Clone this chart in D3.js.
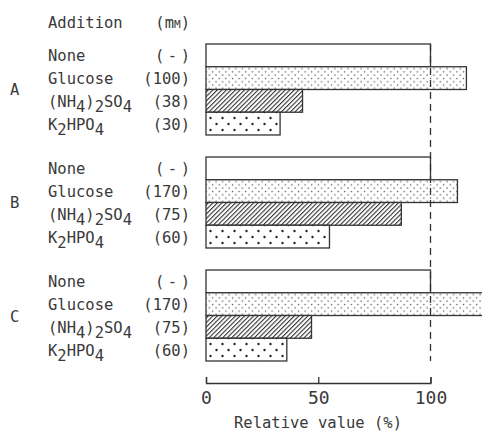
<!DOCTYPE html>
<html>
<head>
<meta charset="utf-8">
<script src="https://cdn.jsdelivr.net/npm/d3@7"></script>
<style>
  body { margin: 0; background: #fff; }
  svg text { font-family: "DejaVu Sans Mono", "Liberation Mono", monospace; fill: #3a3a3a; }
</style>
</head>
<body>
<div id="chart"></div>
<script>
// data
const groups = ['A', 'B', 'C'];
const additions = ['None', 'Glucose', '(NH4)2SO4', 'K2HPO4'];
const concA = ['( - )', '(100)', '(38)', '(30)'];
const concB = ['( - )', '(170)', '(75)', '(60)'];
const concC = ['( - )', '(170)', '(75)', '(60)'];
const valuesA = [100, 116, 43, 33];
const valuesB = [100, 112, 87, 55];
const valuesC = [100, 128, 47, 36];
const xTicks = [0, 50, 100];

const concs = [concA, concB, concC];
const values = [valuesA, valuesB, valuesC];

// label pieces: [text, isSub]
const labelParts = {
    'None': [['None', false]],
    'Glucose': [['Glucose', false]],
    '(NH4)2SO4': [['(NH', false], ['4', true], [')', false], ['2', true], ['SO', false], ['4', true]],
    'K2HPO4': [['K', false], ['2', true], ['HPO', false], ['4', true]]
};
const fills = ['url(#none)', 'url(#fine)', 'url(#hatch)', 'url(#coarse)'];

const W = 482, H = 436;
const ink = '#333';

const svg = d3.select('#chart')
    .append('svg')
    .attr('width', W)
    .attr('height', H);

/** patterns */
const defs = svg.append('defs');

let fine = defs.append('pattern')
    .attr('id', 'fine').attr('patternUnits', 'userSpaceOnUse')
    .attr('width', 6.6).attr('height', 6.6);
fine.append('rect').attr('width', 6.6).attr('height', 6.6).attr('fill', '#fff');
[[1.5, 1.5], [4.8, 4.8]].forEach((p) => {
    fine.append('circle').attr('cx', p[0]).attr('cy', p[1]).attr('r', 0.75).attr('fill', '#555');
});

let hatch = defs.append('pattern')
    .attr('id', 'hatch').attr('patternUnits', 'userSpaceOnUse')
    .attr('width', 3.2).attr('height', 3.2)
    .attr('patternTransform', 'rotate(45)');
hatch.append('rect').attr('width', 3.2).attr('height', 3.2).attr('fill', '#fff');
hatch.append('line').attr('x1', 0).attr('y1', 0).attr('x2', 0).attr('y2', 3.2)
    .attr('stroke', '#333').attr('stroke-width', 2.2);

let coarse = defs.append('pattern')
    .attr('id', 'coarse').attr('patternUnits', 'userSpaceOnUse')
    .attr('width', 12).attr('height', 12)
    .attr('x', 206).attr('y', 0);
coarse.append('rect').attr('width', 12).attr('height', 12).attr('fill', '#fff');
[[4.5, 2], [10.5, 8]].forEach((p) => {
    coarse.append('circle').attr('cx', p[0]).attr('cy', p[1]).attr('r', 1.2).attr('fill', '#222');
});

defs.append('pattern')
    .attr('id', 'none').attr('patternUnits', 'userSpaceOnUse')
    .attr('width', 4).attr('height', 4)
    .append('rect').attr('width', 4).attr('height', 4).attr('fill', '#fff');

/** scales */
const xScale = d3.scaleLinear().domain([0, 100]).range([206, 430.5]);
const groupScale = d3.scaleBand().domain(groups).range([44, 361]).paddingInner(0.195);
const rowScale = d3.scaleBand().domain(d3.range(additions.length)).range([0, groupScale.bandwidth()]);

/** header */
svg.append('text').attr('x', 48).attr('y', 28).style('font-size', '15.5px').text('Addition');
let mm = svg.append('text').attr('x', 190).attr('y', 28).attr('text-anchor', 'end').style('font-size', '15.5px');
mm.append('tspan').text('(m');
mm.append('tspan').style('font-size', '11px').text('M');
mm.append('tspan').text(')');

/** groups */
const g = svg.selectAll('g.group')
    .data(groups)
    .enter()
    .append('g')
    .attr('class', 'group')
    .attr('transform', (d) => `translate(0, ${groupScale(d)})`);

g.append('text')
    .attr('x', 10)
    .attr('y', groupScale.bandwidth() / 2 + 6)
    .style('font-size', '15.5px')
    .text((d) => d);

g.each(function (grp, gi) {
    const sel = d3.select(this);
    const rows = additions.map((a, i) => ({ name: a, conc: concs[gi][i], value: values[gi][i], i: i }));

    // bars
    sel.selectAll('rect.bar')
        .data(rows)
        .enter()
        .append('rect')
        .attr('class', 'bar')
        .attr('x', xScale(0))
        .attr('y', (d) => rowScale(d.i))
        .attr('width', (d) => xScale(d.value) - xScale(0))
        .attr('height', rowScale.bandwidth())
        .attr('fill', (d) => fills[d.i])
        .attr('stroke', ink)
        .attr('stroke-width', 1.3);

    // addition names
    sel.selectAll('text.name')
        .data(rows)
        .enter()
        .append('text')
        .attr('class', 'name')
        .attr('x', 48)
        .attr('y', (d) => rowScale(d.i) + rowScale.bandwidth() / 2 + 6)
        .style('font-size', '15.5px')
        .each(function (d) {
            const t = d3.select(this);
            let shifted = false;
            labelParts[d.name].forEach((p) => {
                const ts = t.append('tspan').text(p[0]);
                if (p[1] && !shifted) { ts.attr('dy', 5); shifted = true; }
                else if (!p[1] && shifted) { ts.attr('dy', -5); shifted = false; }
            });
        });

    // concentrations
    sel.selectAll('text.conc')
        .data(rows)
        .enter()
        .append('text')
        .attr('class', 'conc')
        .attr('x', 190)
        .attr('y', (d) => rowScale(d.i) + rowScale.bandwidth() / 2 + 6)
        .attr('text-anchor', 'end')
        .style('font-size', '15.5px')
        .each(function (d) {
            if (d.conc === '( - )') {
                d3.select(this).attr('textLength', 35).attr('lengthAdjust', 'spacing');
            }
        })
        .text((d) => d.conc);
});

/** dashed 100% line */
svg.append('line')
    .attr('x1', xScale(100)).attr('x2', xScale(100))
    .attr('y1', groupScale('A')).attr('y2', groupScale('C') + groupScale.bandwidth())
    .attr('stroke', ink)
    .attr('stroke-width', 1.3)
    .attr('stroke-dasharray', '7,5');

/** x axis */
const axis = svg.append('g')
    .attr('transform', 'translate(0, 383)')
    .call(d3.axisBottom(xScale).tickValues(xTicks).tickSizeInner(-6).tickSizeOuter(-6).tickPadding(8));
axis.select('.domain').attr('stroke', ink).attr('stroke-width', 1.3);
axis.selectAll('.tick line').attr('stroke', ink).attr('stroke-width', 1.3);
axis.selectAll('.tick text')
    .style('font-family', '"DejaVu Sans Mono", monospace')
    .style('font-size', '18px')
    .attr('fill', '#3a3a3a');

svg.append('text')
    .attr('x', 318)
    .attr('y', 428)
    .attr('text-anchor', 'middle')
    .style('font-size', '15.5px')
    .text('Relative value (%)');
</script>
</body>
</html>
